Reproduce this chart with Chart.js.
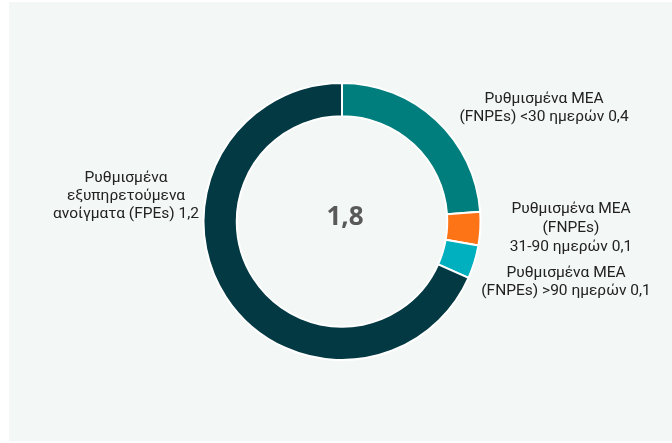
<!DOCTYPE html>
<html>
<head>
<meta charset="utf-8">
<script src="https://cdn.jsdelivr.net/npm/chart.js@4/dist/chart.umd.min.js"></script>
<style>
  html, body { margin: 0; padding: 0; background: #ffffff; }
  #wrap { width: 672px; height: 443px; position: relative; }
</style>
</head>
<body>
<div id="wrap"><canvas id="c" width="672" height="443"></canvas></div>
<script>
// ---- data ----
const categories = [
  ["Ρυθμισμένα ΜΕΑ", "(FNPEs) <30 ημερών"],
  ["Ρυθμισμένα ΜΕΑ", "(FNPEs)", "31-90 ημερών"],
  ["Ρυθμισμένα ΜΕΑ", "(FNPEs) >90 ημερών"],
  ["Ρυθμισμένα", "εξυπηρετούμενα", "ανοίγματα (FPEs)"]
];
const values = [0.43, 0.07, 0.07, 1.23];
const colors = ["#007d7d", "#fd7417", "#00b0be", "#023943"];

// ---- style: label anchors relative to doughnut centre ----
const labelStyle = [
  { dx: 202, dy: -119, lh: 18 },
  { dx: 229, dy: -9,   lh: 19 },
  { dx: 224, dy: 55,   lh: 18 },
  { dx: -216, dy: -40, lh: 18 }
];

const fmt = v => v.toFixed(1).replace('.', ',');

const panelPlugin = {
  id: 'panel',
  beforeDraw(chart) {
    const ctx = chart.ctx;
    ctx.save();
    ctx.fillStyle = '#f3f7f5';
    ctx.fillRect(9, 2, chart.width - 9, chart.height - 4);
    ctx.restore();
  }
};

const labelPlugin = {
  id: 'labels',
  afterDraw(chart) {
    const ctx = chart.ctx;
    const arc = chart.getDatasetMeta(0).data[0];
    const cx = arc.x, cy = arc.y;
    ctx.save();
    ctx.textAlign = 'center';
    ctx.textBaseline = 'alphabetic';
    ctx.fillStyle = '#222222';
    ctx.font = '15.5px Roboto';
    categories.forEach((lines, i) => {
      const st = labelStyle[i];
      const ls = lines.slice();
      ls[ls.length - 1] = ls[ls.length - 1] + ' ' + fmt(values[i]);
      ls.forEach((t, j) => {
        ctx.fillText(t, cx + st.dx, cy + st.dy + j * st.lh);
      });
    });
    const total = values.reduce((a, b) => a + b, 0);
    ctx.fillStyle = '#595959';
    ctx.font = 'bold 26px "Open Sans"';
    ctx.fillText(fmt(total), cx + 3, cy + 3);
    ctx.restore();
  }
};

new Chart(document.getElementById('c'), {
  type: 'doughnut',
  data: {
    labels: categories.map(c => c.join(' ')),
    datasets: [{
      data: values,
      backgroundColor: colors,
      borderColor: '#ffffff',
      borderWidth: 2,
      hoverOffset: 0
    }]
  },
  options: {
    responsive: false,
    animation: false,
    cutout: '76%',
    layout: { padding: { left: 140, right: 128, top: 82, bottom: 82 } },
    plugins: {
      legend: { display: false },
      tooltip: { enabled: false }
    }
  },
  plugins: [panelPlugin, labelPlugin]
});
</script>
</body>
</html>
